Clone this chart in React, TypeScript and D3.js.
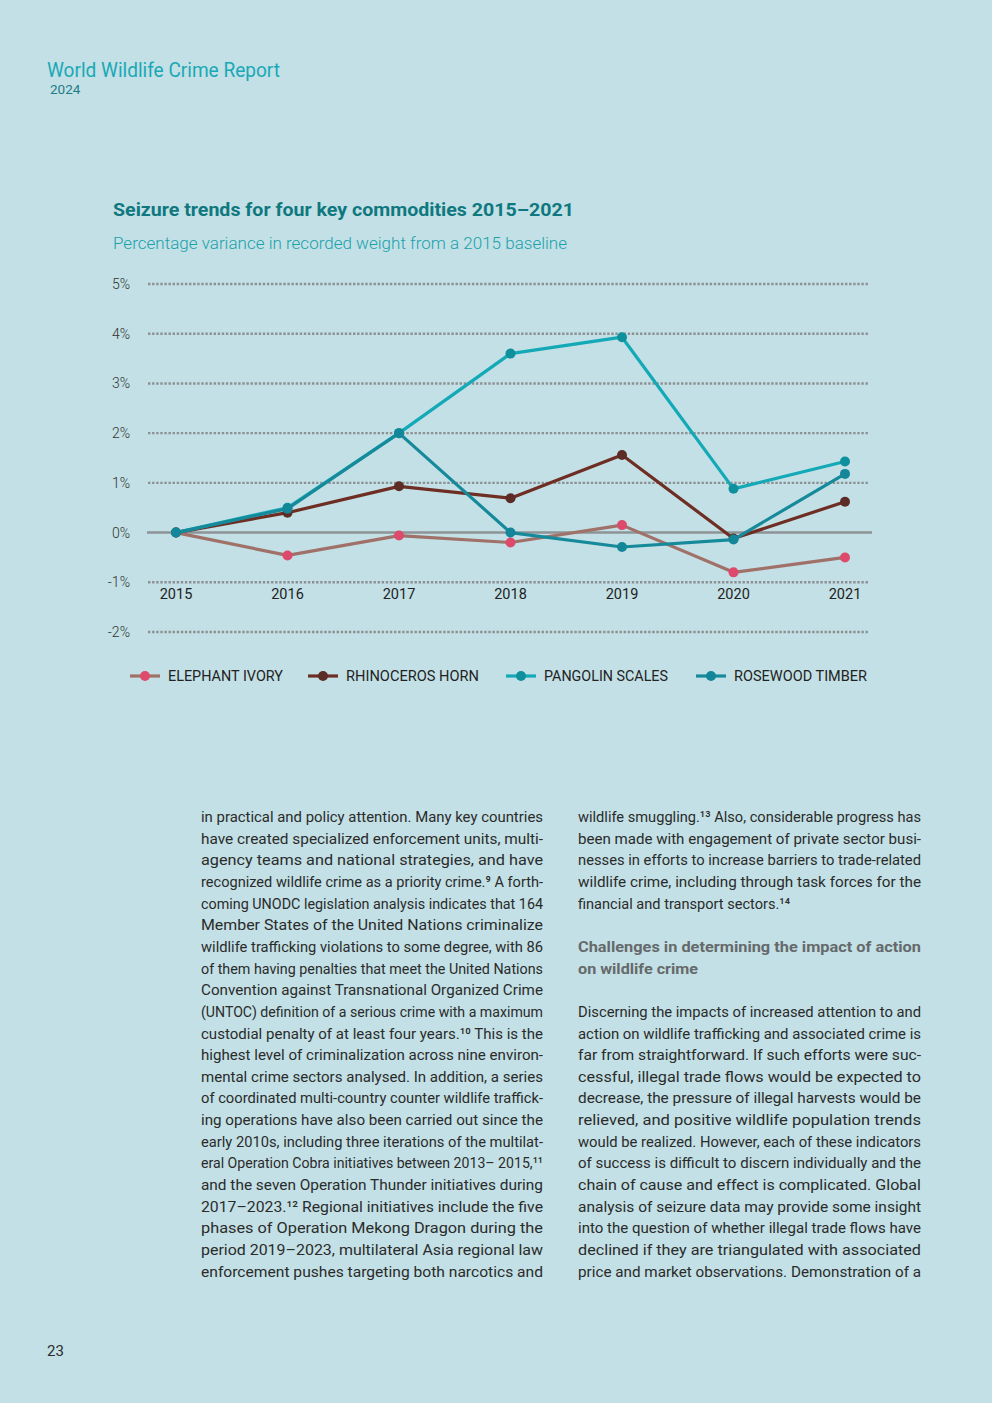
import React from "react";
import * as d3 from "d3";

const years = [2015, 2016, 2017, 2018, 2019, 2020, 2021];
const yTicks = [-2, -1, 0, 1, 2, 3, 4, 5];
const elephantIvory = [0, -0.46, -0.06, -0.2, 0.15, -0.8, -0.5];
const rhinocerosHorn = [0, 0.4, 0.93, 0.69, 1.56, -0.12, 0.62];
const pangolinScales = [0, 0.5, 2.0, 3.6, 3.93, 0.88, 1.43];
const rosewoodTimber = [0, 0.48, 2.0, 0, -0.29, -0.14, 1.18];

const seriesNames = ["ELEPHANT IVORY", "RHINOCEROS HORN", "PANGOLIN SCALES", "ROSEWOOD TIMBER"];
const seriesValues = [elephantIvory, rhinocerosHorn, pangolinScales, rosewoodTimber];
const lineColors = ["#a07169", "#6e2e24", "#13a9b7", "#168a9a"];
const markerColors = ["#de4a6c", "#5c2c26", "#0f909d", "#138799"];

const leftLines = [
  "in practical and policy attention. Many key countries",
  "have created specialized enforcement units, multi-",
  "agency teams and national strategies, and have",
  "recognized wildlife crime as a priority crime.⁹ A forth-",
  "coming UNODC legislation analysis indicates that 164",
  "Member States of the United Nations criminalize",
  "wildlife trafficking violations to some degree, with 86",
  "of them having penalties that meet the United Nations",
  "Convention against Transnational Organized Crime",
  "(UNTOC) definition of a serious crime with a maximum",
  "custodial penalty of at least four years.¹⁰ This is the",
  "highest level of criminalization across nine environ-",
  "mental crime sectors analysed. In addition, a series",
  "of coordinated multi-country counter wildlife traffick-",
  "ing operations have also been carried out since the",
  "early 2010s, including three iterations of the multilat-",
  "eral Operation Cobra initiatives between 2013– 2015,¹¹",
  "and the seven Operation Thunder initiatives during",
  "2017–2023.¹² Regional initiatives include the five",
  "phases of Operation Mekong Dragon during the",
  "period 2019–2023, multilateral Asia regional law",
  "enforcement pushes targeting both narcotics and",
];

const rightLines1 = [
  "wildlife smuggling.¹³ Also, considerable progress has",
  "been made with engagement of private sector busi-",
  "nesses in efforts to increase barriers to trade-related",
  "wildlife crime, including through task forces for the",
  "financial and transport sectors.¹⁴",
];
const headingLines = ["Challenges in determining the impact of action", "on wildlife crime"];
const rightLines2 = [
  "Discerning the impacts of increased attention to and",
  "action on wildlife trafficking and associated crime is",
  "far from straightforward. If such efforts were suc-",
  "cessful, illegal trade flows would be expected to",
  "decrease, the pressure of illegal harvests would be",
  "relieved, and positive wildlife population trends",
  "would be realized. However, each of these indicators",
  "of success is difficult to discern individually and the",
  "chain of cause and effect is complicated. Global",
  "analysis of seizure data may provide some insight",
  "into the question of whether illegal trade flows have",
  "declined if they are triangulated with associated",
  "price and market observations. Demonstration of a",
];

const BG = "#c2e0e5";
const FONT = "Roboto, 'Open Sans', sans-serif";

function Line({ text, x, y, width, size, fill, weight }: any) {
  return (
    <text
      x={x}
      y={y}
      fontFamily={FONT}
      fontSize={size}
      fill={fill}
      fontWeight={weight || 400}
      textLength={width}
      lengthAdjust="spacingAndGlyphs"
    >
      {text}
    </text>
  );
}

export default function App() {
  const W = 992;
  const H = 1403;
  const x = d3.scalePoint<number>().domain(years).range([176, 845]);
  const y = d3.scaleLinear().domain([-2, 5]).range([632, 284]);
  const line = d3
    .line<number>()
    .x((_, i) => x(years[i]) as number)
    .y((d) => y(d));

  const legendX = [130, 308, 506, 696];
  const legendTextW = [115, 133, 124, 133];
  const lh = 21.65;
  const base = 822;

  const lastRight1Width = 212;

  return (
    <svg
      width={W}
      height={H}
      style={{ position: "absolute", left: 0, top: 0, display: "block" }}
    >
      <rect x={0} y={0} width={W} height={H} fill={BG} />

      {/* header */}
      <text x={47} y={77} fontFamily={FONT} fontSize={19.5} fill="#1aa8b6" textLength={233} lengthAdjust="spacingAndGlyphs">
        World Wildlife Crime Report
      </text>
      <text x={50} y={94} fontFamily={FONT} fontSize={13.5} fill="#1d7c86">
        2024
      </text>

      {/* chart title */}
      <text x={113} y={216} fontFamily={FONT} fontSize={18.5} fontWeight={700} fill="#0f787f" textLength={461} lengthAdjust="spacingAndGlyphs">
        Seizure trends for four key commodities 2015–2021
      </text>
      <text x={113} y={249} fontFamily={FONT} fontSize={16.5} fontWeight={300} fill="#1aa1ac" textLength={454} lengthAdjust="spacingAndGlyphs">
        Percentage variance in recorded weight from a 2015 baseline
      </text>

      {/* grid */}
      {yTicks.map((t) => (
        <g key={t}>
          {t !== 0 && (
            <line
              x1={148}
              x2={868}
              y1={y(t)}
              y2={y(t)}
              stroke="#8d9194"
              strokeWidth={2.4}
              strokeDasharray="2.4 1.7"
            />
          )}
          <text
            x={130}
            y={y(t) + 5}
            textAnchor="end"
            fontFamily={FONT}
            fontSize={14}
            fill="#333"
            fontWeight={300}
          >
            {t}%
          </text>
        </g>
      ))}
      <line x1={147} x2={872} y1={y(0)} y2={y(0)} stroke="#8e9396" strokeWidth={2.6} />

      {/* year labels */}
      {years.map((yr) => (
        <text
          key={yr}
          x={x(yr)}
          y={599}
          textAnchor="middle"
          fontFamily={FONT}
          fontSize={14.5}
          fill="#222"
        >
          {yr}
        </text>
      ))}

      {/* series */}
      {seriesValues.map((vals, si) => (
        <g key={si}>
          <path d={line(vals) || ""} fill="none" stroke={lineColors[si]} strokeWidth={3.2} strokeLinejoin="round" />
          {vals.map((v, i) => (
            <circle key={i} cx={x(years[i])} cy={y(v)} r={5} fill={markerColors[si]} />
          ))}
        </g>
      ))}

      {/* legend */}
      {seriesNames.map((name, si) => (
        <g key={name}>
          <line x1={legendX[si]} x2={legendX[si] + 30} y1={676} y2={676} stroke={lineColors[si]} strokeWidth={3.2} />
          <circle cx={legendX[si] + 15} cy={676} r={5} fill={markerColors[si]} />
          <text
            x={legendX[si] + 38}
            y={681}
            fontFamily={FONT}
            fontSize={14.5}
            fill="#222"
            textLength={legendTextW[si]}
            lengthAdjust="spacingAndGlyphs"
          >
            {name}
          </text>
        </g>
      ))}

      {/* body text left column */}
      {leftLines.map((t, i) => (
        <Line key={"l" + i} text={t} x={201} y={base + i * lh} width={342} size={15.5} fill="#2b2b2b" />
      ))}

      {/* right column */}
      {rightLines1.map((t, i) => (
        <Line
          key={"r1" + i}
          text={t}
          x={578}
          y={base + i * lh}
          width={i === rightLines1.length - 1 ? lastRight1Width : 343}
          size={15.5}
          fill="#2b2b2b"
        />
      ))}
      {headingLines.map((t, i) => (
        <Line
          key={"h" + i}
          text={t}
          x={578}
          y={base + (6 + i) * lh}
          width={i === 0 ? 343 : 120}
          size={15.5}
          fill="#66696b"
          weight={700}
        />
      ))}
      {rightLines2.map((t, i) => (
        <Line key={"r2" + i} text={t} x={578} y={base + (9 + i) * lh} width={343} size={15.5} fill="#2b2b2b" />
      ))}

      {/* page number */}
      <text x={47} y={1356} fontFamily={FONT} fontSize={15} fill="#2b2b2b">
        23
      </text>
    </svg>
  );
}
